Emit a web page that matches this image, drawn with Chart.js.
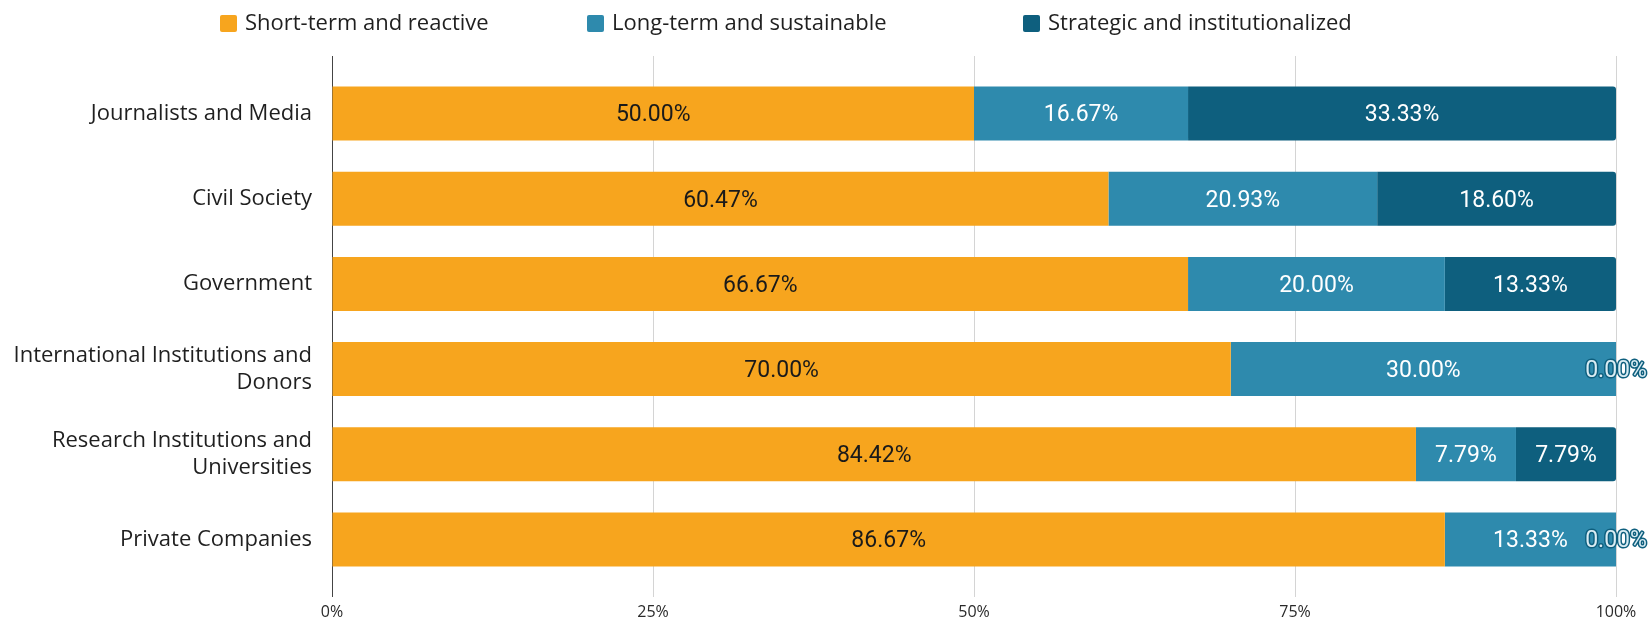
<!DOCTYPE html>
<html>
<head>
<meta charset="utf-8">
<script src="https://cdn.jsdelivr.net/npm/chart.js@4"></script>
<style>
  body { margin: 0; background: #fff; }
  #wrap { width: 1649px; height: 620px; position: relative; }
</style>
</head>
<body>
<div id="wrap"><canvas id="stackChart"></canvas></div>
<script>
const categories = [
    'Journalists and Media',
    'Civil Society',
    'Government',
    ['International Institutions and', 'Donors'],
    ['Research Institutions and', 'Universities'],
    'Private Companies'
];
const seriesNames = ['Short-term and reactive', 'Long-term and sustainable', 'Strategic and institutionalized'];
const shortTerm = [50.00, 60.47, 66.67, 70.00, 84.42, 86.67];
const longTerm = [16.67, 20.93, 20.00, 30.00, 7.79, 13.33];
const strategic = [33.33, 18.60, 13.33, 0.00, 7.79, 0.00];
const xTicks = [0, 25, 50, 75, 100];

const colors = ['#F7A51E', '#2E8AAD', '#0E5F7E'];
const labelFont = '"Open Sans", sans-serif';

// legend drawn by hand so the items sit where the original has them
const legendX = [220, 587, 1023];
const legendPlugin = {
    id: 'topLegend',
    afterDraw(chart) {
        const ctx = chart.ctx;
        ctx.save();
        chart.data.datasets.forEach((ds, i) => {
            ctx.fillStyle = ds.backgroundColor;
            ctx.beginPath();
            ctx.roundRect(legendX[i], 15, 17, 17, 2);
            ctx.fill();
            ctx.fillStyle = '#1f1f1f';
            ctx.font = '22px ' + labelFont;
            ctx.textBaseline = 'middle';
            ctx.textAlign = 'left';
            ctx.fillText(ds.label, legendX[i] + 25, 24);
        });
        ctx.restore();
    }
};

// value labels in the middle of every segment
const valueLabels = {
    id: 'valueLabels',
    afterDatasetsDraw(chart) {
        const ctx = chart.ctx;
        ctx.save();
        ctx.font = '23px Roboto, sans-serif';
        ctx.textAlign = 'center';
        ctx.textBaseline = 'middle';
        chart.data.datasets.forEach((ds, i) => {
            const meta = chart.getDatasetMeta(i);
            meta.data.forEach((bar, j) => {
                const v = ds.data[j];
                const p = bar.getProps(['x', 'y', 'base'], true);
                const cx = (p.x + p.base) / 2;
                const cy = p.y + 2;
                const txt = v.toFixed(2) + '%';
                if (v === 0) {
                    ctx.lineWidth = 3;
                    ctx.strokeStyle = '#0E5F7E';
                    ctx.lineJoin = 'round';
                    ctx.strokeText(txt, cx, cy);
                    ctx.fillStyle = '#d9ecf3';
                    ctx.fillText(txt, cx, cy);
                } else {
                    ctx.fillStyle = i === 0 ? '#1a1a1a' : '#ffffff';
                    ctx.fillText(txt, cx, cy);
                }
            });
        });
        ctx.restore();
    }
};

const gridColor = c => (c.tick && c.tick.value === 0) ? '#444444' : '#d4d4d4';

new Chart(document.getElementById('stackChart'), {
    type: 'bar',
    data: {
        labels: categories,
        datasets: [{
            label: seriesNames[0],
            data: shortTerm,
            backgroundColor: colors[0]
        }, {
            label: seriesNames[1],
            data: longTerm,
            backgroundColor: colors[1]
        }, {
            label: seriesNames[2],
            data: strategic,
            backgroundColor: colors[2],
            borderRadius: { topRight: 3, bottomRight: 3, topLeft: 0, bottomLeft: 0 },
            borderSkipped: false
        }]
    },
    options: {
        indexAxis: 'y',
        responsive: true,
        maintainAspectRatio: false,
        animation: false,
        datasets: {
            bar: { categoryPercentage: 1, barPercentage: 0.635 }
        },
        layout: { padding: { top: 56, right: 33, bottom: 0, left: 0 } },
        plugins: {
            legend: { display: false },
            tooltip: { enabled: false }
        },
        scales: {
            x: {
                stacked: true,
                min: 0,
                max: 100,
                afterBuildTicks: s => { s.ticks = xTicks.map(v => ({ value: v })); },
                afterFit: s => { s.height = 38; },
                grid: { color: gridColor, tickLength: 15, lineWidth: 1 },
                border: { display: false },
                ticks: {
                    padding: 6,
                    color: '#2a2a2a',
                    font: { family: '"Open Sans", sans-serif', size: 16 },
                    callback: v => v + '%'
                }
            },
            xTop: {
                position: 'top',
                axis: 'x',
                min: 0,
                max: 100,
                afterBuildTicks: s => { s.ticks = xTicks.map(v => ({ value: v })); },
                afterFit: s => { s.height = 15; },
                grid: { color: gridColor, tickLength: 15, drawOnChartArea: false },
                border: { display: false },
                ticks: { display: false }
            },
            y: {
                stacked: true,
                z: 1,
                afterFit: s => { s.width = 332; },
                grid: { display: false, drawTicks: false },
                border: { display: true, color: '#444444' },
                ticks: {
                    padding: 20,
                    color: '#1f1f1f',
                    font: { family: labelFont, size: 22, lineHeight: 1.25 }
                }
            }
        }
    },
    plugins: [legendPlugin, valueLabels]
});
</script>
</body>
</html>
